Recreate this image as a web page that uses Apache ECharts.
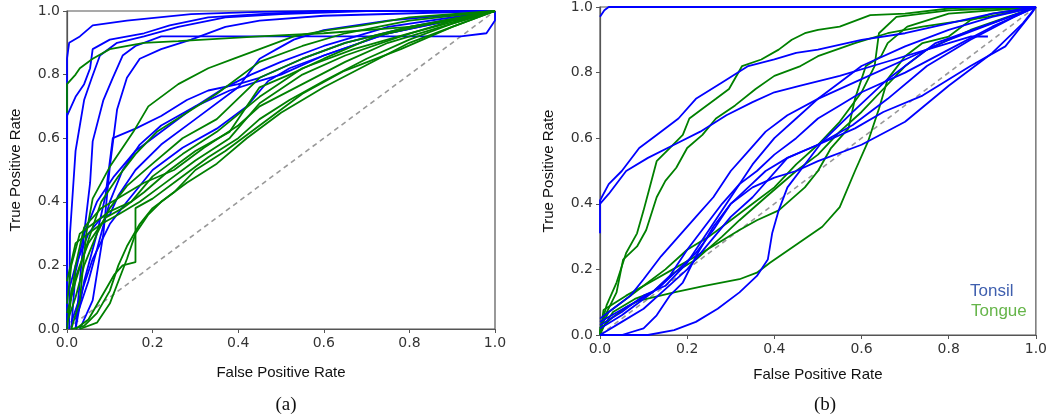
<!DOCTYPE html>
<html><head><meta charset="utf-8">
<script src="https://cdn.jsdelivr.net/npm/echarts@6/dist/echarts.min.js"></script>
<style>html,body{margin:0;padding:0;background:#fff}#c{width:1050px;height:416px}</style>
</head><body><div id="c"></div>
<script>
const tickLabels = ['0.0','0.2','0.4','0.6','0.8','1.0'];
const diagonal = [[0,0],[1,1]];
const legendNames = ['Tonsil','Tongue'];

const leftTonsil = [
 [[0,0],[0,0.85],[0.005,0.9],[0.03,0.92],[0.06,0.955],[0.14,0.97],[0.29,0.99],[0.45,0.997],[0.6,1],[1,1]],
 [[0,0],[0,0.67],[0.02,0.73],[0.04,0.77],[0.054,0.82],[0.06,0.88],[0.1,0.91],[0.18,0.93],[0.24,0.955],[0.33,0.98],[0.45,0.99],[0.6,1],[1,1]],
 [[0.005,0],[0.007,0.3],[0.015,0.46],[0.02,0.56],[0.03,0.64],[0.04,0.72],[0.058,0.79],[0.077,0.86],[0.117,0.9],[0.18,0.92],[0.26,0.95],[0.37,0.98],[0.5,0.99],[0.7,1],[1,1]],
 [[0.02,0],[0.04,0.3],[0.054,0.46],[0.06,0.59],[0.085,0.72],[0.107,0.79],[0.13,0.86],[0.16,0.89],[0.22,0.92],[0.5,0.92],[0.92,0.92],[0.98,0.93],[1,0.97],[1,1]],
 [[0.03,0],[0.06,0.09],[0.085,0.3],[0.1,0.51],[0.117,0.69],[0.14,0.79],[0.17,0.85],[0.22,0.88],[0.29,0.91],[0.37,0.95],[0.45,0.97],[0.6,0.985],[1,1]],
 [[0.02,0],[0.04,0.15],[0.07,0.3],[0.09,0.42],[0.107,0.6],[0.16,0.63],[0.22,0.67],[0.28,0.72],[0.33,0.75],[0.4,0.77],[0.45,0.79],[0.55,0.85],[0.65,0.9],[0.8,0.95],[1,1]],
 [[0.02,0.03],[0.05,0.15],[0.08,0.3],[0.1,0.4],[0.13,0.5],[0.17,0.58],[0.22,0.64],[0.3,0.7],[0.38,0.75],[0.45,0.78],[0.5,0.8],[0.6,0.86],[0.75,0.93],[1,1]],
 [[0.01,0.02],[0.03,0.1],[0.06,0.22],[0.1,0.33],[0.14,0.4],[0.2,0.5],[0.27,0.57],[0.35,0.63],[0.42,0.7],[0.47,0.78],[0.52,0.82],[0.6,0.86],[0.75,0.93],[1,1]],
 [[0,0.1],[0.02,0.2],[0.05,0.3],[0.08,0.35],[0.1,0.36],[0.12,0.42],[0.16,0.5],[0.22,0.58],[0.3,0.66],[0.4,0.76],[0.45,0.85],[0.49,0.88],[0.53,0.91],[0.6,0.94],[0.75,0.97],[1,1]],
 [[0.01,0],[0.02,0.18],[0.04,0.3],[0.07,0.4],[0.11,0.48],[0.16,0.56],[0.22,0.62],[0.3,0.7],[0.37,0.76],[0.43,0.8],[0.5,0.84],[0.6,0.89],[0.75,0.95],[1,1]]
];
const leftTongue = [
 [[0,0.68],[0,0.77],[0.02,0.8],[0.03,0.82],[0.06,0.85],[0.1,0.88],[0.18,0.9],[0.26,0.905],[0.45,0.92],[0.6,0.93],[0.8,0.95],[0.95,0.98],[1,1]],
 [[0.01,0],[0.03,0.09],[0.045,0.3],[0.06,0.41],[0.1,0.51],[0.155,0.62],[0.19,0.7],[0.26,0.77],[0.33,0.82],[0.39,0.85],[0.45,0.88],[0.53,0.92],[0.61,0.94],[0.69,0.955],[0.8,0.98],[1,1]],
 [[0,0.05],[0.02,0.15],[0.05,0.28],[0.08,0.4],[0.12,0.48],[0.16,0.55],[0.21,0.62],[0.28,0.68],[0.35,0.74],[0.45,0.84],[0.55,0.89],[0.65,0.93],[0.8,0.97],[1,1]],
 [[0,0.02],[0.02,0.1],[0.04,0.2],[0.07,0.3],[0.1,0.38],[0.14,0.45],[0.2,0.52],[0.27,0.6],[0.35,0.66],[0.45,0.79],[0.55,0.85],[0.65,0.9],[0.8,0.95],[1,1]],
 [[0.02,0],[0.05,0.03],[0.08,0.1],[0.11,0.17],[0.13,0.2],[0.16,0.21],[0.16,0.38],[0.2,0.41],[0.26,0.47],[0.33,0.54],[0.4,0.6],[0.45,0.66],[0.52,0.72],[0.6,0.78],[0.7,0.85],[0.8,0.91],[0.9,0.96],[1,1]],
 [[0.03,0],[0.07,0.02],[0.1,0.08],[0.12,0.15],[0.14,0.22],[0.16,0.3],[0.19,0.36],[0.22,0.4],[0.28,0.46],[0.35,0.52],[0.42,0.6],[0.5,0.68],[0.6,0.76],[0.7,0.83],[0.8,0.9],[0.9,0.95],[1,1]],
 [[0.01,0],[0.04,0.01],[0.07,0.05],[0.1,0.12],[0.12,0.2],[0.14,0.26],[0.17,0.33],[0.2,0.38],[0.25,0.43],[0.3,0.5],[0.37,0.56],[0.45,0.64],[0.55,0.74],[0.645,0.81],[0.78,0.88],[0.9,0.95],[1,1]],
 [[0,0.15],[0.02,0.27],[0.05,0.3],[0.08,0.33],[0.12,0.36],[0.17,0.4],[0.22,0.45],[0.3,0.53],[0.38,0.6],[0.45,0.71],[0.55,0.8],[0.65,0.86],[0.78,0.92],[0.9,0.97],[1,1]],
 [[0,0.08],[0.01,0.2],[0.03,0.3],[0.06,0.33],[0.1,0.37],[0.15,0.4],[0.2,0.48],[0.27,0.55],[0.35,0.62],[0.45,0.73],[0.55,0.82],[0.67,0.88],[0.8,0.93],[1,1]],
 [[0.005,0.05],[0.02,0.2],[0.04,0.32],[0.08,0.38],[0.13,0.42],[0.18,0.46],[0.25,0.5],[0.32,0.57],[0.4,0.64],[0.45,0.7],[0.55,0.77],[0.65,0.84],[0.75,0.9],[0.9,0.96],[1,1]],
 [[0,0],[0.01,0.12],[0.03,0.2],[0.05,0.27],[0.09,0.35],[0.13,0.38],[0.18,0.43],[0.24,0.5],[0.3,0.56],[0.38,0.62],[0.45,0.76],[0.52,0.8],[0.6,0.85],[0.72,0.92],[0.85,0.96],[1,1]]
];
const rightTonsil = [
 [[0,0.97],[0.01,0.99],[0.02,1],[1,1]],
 [[0,0.31],[0,0.41],[0.02,0.46],[0.05,0.5],[0.09,0.57],[0.13,0.61],[0.18,0.66],[0.22,0.72],[0.28,0.77],[0.34,0.82],[0.4,0.84],[0.45,0.86],[0.5,0.87],[0.6,0.9],[0.7,0.92],[0.8,0.95],[0.9,0.98],[1,1]],
 [[0,0.4],[0.02,0.43],[0.06,0.5],[0.11,0.54],[0.17,0.58],[0.23,0.62],[0.29,0.67],[0.35,0.71],[0.4,0.74],[0.46,0.76],[0.55,0.79],[0.65,0.83],[0.75,0.87],[0.85,0.91],[0.89,0.91]],
 [[0,0],[0.11,0],[0.17,0.015],[0.22,0.04],[0.27,0.08],[0.32,0.13],[0.36,0.18],[0.385,0.23],[0.395,0.31],[0.41,0.38],[0.43,0.45],[0.47,0.52],[0.51,0.59],[0.58,0.68],[0.66,0.78],[0.77,0.89],[0.96,0.98],[1,1]],
 [[0,0.05],[0.03,0.08],[0.07,0.12],[0.1,0.17],[0.14,0.24],[0.18,0.3],[0.22,0.36],[0.26,0.42],[0.3,0.5],[0.34,0.56],[0.38,0.62],[0.43,0.67],[0.5,0.72],[0.6,0.78],[0.7,0.84],[0.8,0.9],[0.9,0.95],[1,1]],
 [[0,0.04],[0.04,0.07],[0.08,0.1],[0.12,0.13],[0.16,0.18],[0.2,0.26],[0.24,0.33],[0.28,0.4],[0.32,0.46],[0.36,0.5],[0.4,0.55],[0.45,0.6],[0.5,0.66],[0.55,0.7],[0.6,0.74],[0.7,0.8],[0.8,0.87],[0.9,0.94],[1,1]],
 [[0,0.02],[0.05,0.06],[0.1,0.11],[0.14,0.15],[0.18,0.2],[0.22,0.25],[0.26,0.32],[0.3,0.4],[0.34,0.45],[0.38,0.5],[0.43,0.54],[0.5,0.58],[0.58,0.64],[0.66,0.72],[0.75,0.82],[0.85,0.9],[0.95,0.97],[1,1]],
 [[0.05,0],[0.1,0.02],[0.13,0.06],[0.16,0.12],[0.19,0.16],[0.22,0.24],[0.26,0.33],[0.3,0.4],[0.35,0.45],[0.4,0.48],[0.45,0.5],[0.5,0.53],[0.6,0.58],[0.7,0.65],[0.8,0.76],[0.9,0.86],[0.97,0.95],[1,1]],
 [[0,0],[0.05,0.04],[0.1,0.08],[0.15,0.14],[0.2,0.2],[0.25,0.28],[0.3,0.36],[0.35,0.42],[0.43,0.54],[0.5,0.58],[0.585,0.63],[0.65,0.68],[0.74,0.73],[0.85,0.82],[0.93,0.88],[0.99,0.98],[1,1]],
 [[0,0.03],[0.05,0.07],[0.1,0.12],[0.15,0.15],[0.2,0.22],[0.25,0.32],[0.3,0.42],[0.35,0.52],[0.4,0.6],[0.45,0.66],[0.5,0.72],[0.55,0.77],[0.6,0.82],[0.7,0.88],[0.8,0.93],[0.9,0.97],[1,1]]
];
const rightTongue = [
 [[0,0],[0,0.015],[0.015,0.09],[0.038,0.16],[0.06,0.25],[0.085,0.31],[0.1,0.38],[0.114,0.45],[0.13,0.53],[0.16,0.57],[0.19,0.61],[0.205,0.66],[0.235,0.69],[0.266,0.72],[0.296,0.75],[0.326,0.82],[0.37,0.84],[0.41,0.87],[0.44,0.9],[0.47,0.92],[0.5,0.93],[0.55,0.94],[0.62,0.975],[0.7,0.98],[0.81,0.997],[1,1]],
 [[0,0],[0.007,0.046],[0.038,0.13],[0.053,0.23],[0.085,0.27],[0.106,0.32],[0.13,0.42],[0.15,0.47],[0.175,0.51],[0.2,0.57],[0.235,0.61],[0.266,0.66],[0.31,0.7],[0.357,0.75],[0.4,0.79],[0.46,0.82],[0.5,0.85],[0.585,0.89],[0.66,0.92],[0.74,0.94],[0.89,0.97],[1,1]],
 [[0,0],[0.01,0.03],[0.03,0.055],[0.06,0.085],[0.09,0.105],[0.17,0.13],[0.24,0.15],[0.32,0.17],[0.36,0.19],[0.39,0.22],[0.455,0.28],[0.51,0.33],[0.55,0.39],[0.585,0.5],[0.615,0.59],[0.64,0.69],[0.66,0.78],[0.7,0.85],[0.74,0.89],[0.8,0.91],[0.85,0.96],[0.9,0.98],[1,1]],
 [[0,0.02],[0.02,0.07],[0.05,0.1],[0.1,0.15],[0.15,0.2],[0.2,0.26],[0.25,0.3],[0.3,0.35],[0.35,0.4],[0.4,0.45],[0.45,0.52],[0.5,0.58],[0.55,0.65],[0.6,0.74],[0.63,0.82],[0.64,0.92],[0.68,0.97],[0.8,0.99],[1,1]],
 [[0,0],[0.008,0.076],[0.06,0.12],[0.114,0.16],[0.167,0.2],[0.22,0.24],[0.27,0.28],[0.32,0.32],[0.36,0.35],[0.41,0.38],[0.47,0.45],[0.5,0.5],[0.53,0.57],[0.57,0.63],[0.585,0.72],[0.61,0.82],[0.645,0.85],[0.66,0.89],[0.705,0.94],[0.8,0.98],[1,1]],
 [[0,0.01],[0.03,0.07],[0.08,0.11],[0.12,0.13],[0.17,0.19],[0.22,0.23],[0.28,0.3],[0.32,0.35],[0.38,0.42],[0.45,0.5],[0.5,0.55],[0.55,0.62],[0.6,0.68],[0.65,0.75],[0.7,0.82],[0.75,0.87],[0.85,0.93],[1,1]]
];

const BLUE = '#0000ff', GREEN = '#008000';
const series = [];
function addGroup(curves, color, idx) {
  curves.forEach(c => series.push({
    type: 'line', data: c, xAxisIndex: idx, yAxisIndex: idx,
    showSymbol: false, silent: true, animation: false,
    lineStyle: { color: color, width: 1.8 }
  }));
}
function addDiag(idx) {
  series.push({ type: 'line', data: diagonal, xAxisIndex: idx, yAxisIndex: idx,
    showSymbol: false, silent: true, animation: false, z: 1,
    lineStyle: { color: '#999', width: 1.6, type: [5, 4] } });
}
addDiag(0); addDiag(1);
addGroup(leftTonsil, BLUE, 0);
addGroup(leftTongue, GREEN, 0);
addGroup(rightTongue, GREEN, 1);
addGroup(rightTonsil, BLUE, 1);

const axisCommon = (name, gap) => ({
  type: 'value', min: 0, max: 1, interval: 0.2,
  name: name, nameLocation: 'middle', nameGap: gap,
  nameTextStyle: { fontFamily: 'Liberation Sans, Arial', fontSize: 15, color: '#111' },
  splitLine: { show: false },
  axisLine: { show: true, lineStyle: { color: '#555', width: 1.2 } },
  axisTick: { show: true, length: 4, lineStyle: { color: '#555' } },
  axisLabel: { margin: 7, fontFamily: 'DejaVu Sans', fontSize: 14, color: '#333',
    formatter: v => tickLabels[Math.round(v / 0.2)] }
});

const chart = echarts.init(document.getElementById('c'), null, { renderer: 'canvas' });
chart.setOption({
  animation: false,
  backgroundColor: '#fff',
  grid: [
    { left: 67, top: 11, width: 428, height: 318, show: true, borderColor: '#555', borderWidth: 1.2, backgroundColor: 'transparent' },
    { left: 600, top: 7, width: 439, height: 328, show: true, borderColor: '#555', borderWidth: 1.2, backgroundColor: 'transparent' }
  ],
  xAxis: [
    Object.assign(axisCommon('False Positive Rate', 36), { gridIndex: 0 }),
    Object.assign(axisCommon('False Positive Rate', 32), { gridIndex: 1 })
  ],
  yAxis: [
    Object.assign(axisCommon('True Positive Rate', 44), { gridIndex: 0 }),
    Object.assign(axisCommon('True Positive Rate', 44), { gridIndex: 1 })
  ],
  title: [
    { text: '(a)', left: 281, top: 391, textAlign: 'center',
      textStyle: { fontFamily: 'Liberation Serif, Times New Roman', fontSize: 19, fontWeight: 'normal', color: '#111' } },
    { text: '(b)', left: 820, top: 391, textAlign: 'center',
      textStyle: { fontFamily: 'Liberation Serif, Times New Roman', fontSize: 19, fontWeight: 'normal', color: '#111' } },
    { text: legendNames[0], left: 965, top: 278,
      textStyle: { fontFamily: 'Liberation Sans, Arial', fontSize: 17, fontWeight: 'normal', color: '#3f5fae' } },
    { text: legendNames[1], left: 966, top: 298,
      textStyle: { fontFamily: 'Liberation Sans, Arial', fontSize: 17, fontWeight: 'normal', color: '#66b54a' } }
  ],
  series: series
});
</script>
</body></html>
